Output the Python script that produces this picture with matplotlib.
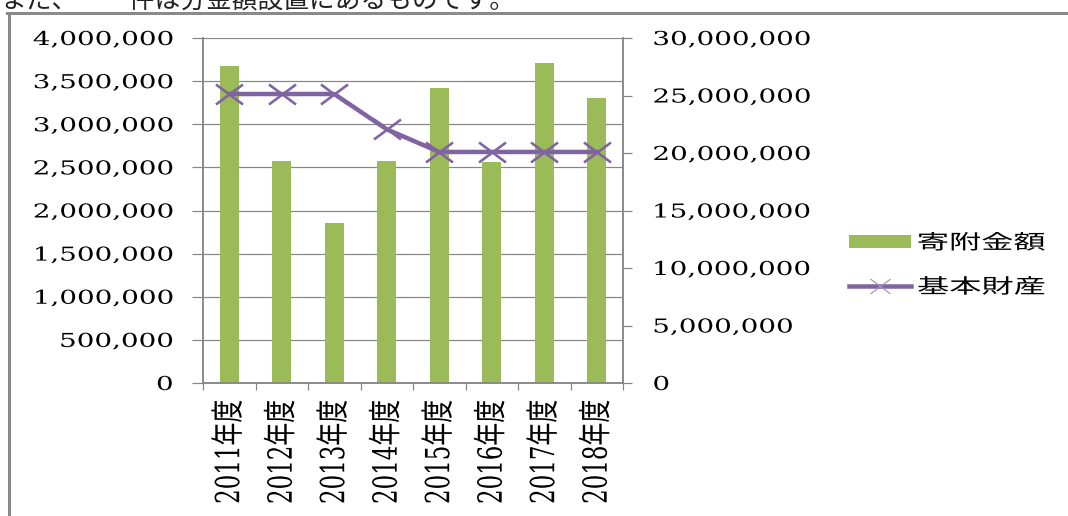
import matplotlib
matplotlib.use('Agg')
import matplotlib.pyplot as plt
from matplotlib.patheffects import AbstractPathEffect
from matplotlib.transforms import Affine2D
from matplotlib.path import Path
from matplotlib.lines import Line2D
from matplotlib.patches import Patch
from matplotlib.ticker import FuncFormatter, MultipleLocator, FixedLocator

# ---- data ----
years = ['2011年度', '2012年度', '2013年度', '2014年度',
         '2015年度', '2016年度', '2017年度', '2018年度']
donations = [3680000, 2575000, 1850000, 2575000, 3425000, 2560000, 3715000, 3300000]
endowment = [25130000, 25130000, 25130000, 22060000, 20090000, 20090000, 20090000, 20090000]
series_names = ['寄附金額', '基本財産']
header_text = 'また、一一件は分金額設置にあるものです。'

GREEN = '#9BBB59'
PURPLE = '#8064A2'
GRAY = '#868686'

plt.rcParams['font.family'] = ['DejaVu Serif', 'Noto Sans CJK JP']


class HStretch(AbstractPathEffect):
    """Stretch rendered text horizontally around an anchor edge."""
    def __init__(self, sx, anchor='left'):
        super().__init__()
        self.sx = sx
        self.anchor = anchor

    def draw_path(self, renderer, gc, tpath, affine, rgbFace=None):
        ext = tpath.transformed(affine).get_extents()
        if self.anchor == 'left':
            ax_ = ext.x0
        elif self.anchor == 'right':
            ax_ = ext.x1
        else:
            ax_ = 0.5 * (ext.x0 + ext.x1)
        t = affine + Affine2D().translate(-ax_, 0).scale(self.sx, 1).translate(ax_, 0)
        renderer.draw_path(gc, tpath, t, rgbFace)


W, H = 1068, 516
fig = plt.figure(figsize=(W / 100, H / 100), dpi=100)

def px(v):
    return v * 72 / 100.0

ax = fig.add_axes([203 / W, 1 - 383 / H, 420 / W, 345 / H])
ax2 = ax.twinx()

x = list(range(len(years)))
ax.bar(x, donations, width=0.37, color=GREEN, zorder=2)
ax.set_xlim(-0.5, len(years) - 0.5)
ax.set_ylim(0, 4000000)
ax.yaxis.set_major_locator(MultipleLocator(500000))
ax.yaxis.set_major_formatter(FuncFormatter(lambda v, p: f'{v:,.0f}'))
ax.grid(axis='y', color=GRAY, linewidth=px(1.2))
ax.set_axisbelow(True)

marker_x = Path([(-1.35, -1), (1.35, 1), (-1.35, 1), (1.35, -1)],
                [Path.MOVETO, Path.LINETO, Path.MOVETO, Path.LINETO])
ax2.plot(x, endowment, color=PURPLE, linewidth=px(4.5), marker=marker_x,
         markersize=px(27), markeredgewidth=px(2.6), markeredgecolor=PURPLE,
         solid_joinstyle='round', zorder=3)
ax2.set_ylim(0, 30000000)
ax2.yaxis.set_major_locator(MultipleLocator(5000000))
ax2.yaxis.set_major_formatter(FuncFormatter(lambda v, p: f'{v:,.0f}'))

for a in (ax, ax2):
    for s in a.spines.values():
        s.set_color(GRAY)
        s.set_linewidth(px(1.5))
    a.spines['top'].set_visible(False)

ax.set_xticks(x)
ax.set_xticklabels(years, rotation=90, fontsize=16.5, va='top', ha='center')
ax.xaxis.set_minor_locator(FixedLocator([i - 0.5 for i in range(len(years) + 1)]))
ax.tick_params(axis='x', which='major', length=0, pad=px(17))
ax.tick_params(axis='x', which='minor', length=px(7), width=px(1.2), color=GRAY, direction='out')
ax.tick_params(axis='y', which='major', length=px(11), width=px(1.2), color=GRAY,
               direction='out', pad=px(19), labelsize=13.8)
ax2.tick_params(axis='y', which='major', length=px(9), width=px(1.2), color=GRAY,
                direction='out', pad=px(21), labelsize=13.8)

for lab in ax.get_yticklabels():
    lab.set_path_effects([HStretch(1.45, 'right')])
for lab in ax2.get_yticklabels():
    lab.set_path_effects([HStretch(1.45, 'left')])
for lab in ax.get_xticklabels():
    lab.set_path_effects([HStretch(1.45, 'center')])

# legend
handles = [Patch(facecolor=GREEN, edgecolor='none'),
           Line2D([], [], color=PURPLE, linewidth=px(4.5), marker=marker_x,
                  markersize=px(20), markeredgewidth=px(1.2), markeredgecolor='#a48fc4')]
leg = fig.legend(handles, series_names, loc='center left',
                 bbox_to_anchor=(849 / W, 1 - 265.5 / H), frameon=False,
                 borderpad=0, borderaxespad=0, handlelength=3.1, handleheight=0.6,
                 handletextpad=0.3, labelspacing=1.15,
                 prop={'family': 'Noto Sans CJK JP', 'size': 14.5})
for t in leg.get_texts():
    t.set_path_effects([HStretch(1.6, 'left')])

# document border and clipped header text
fig.add_artist(Line2D([8.5 / W, 8.5 / W], [0, 1 - 12.5 / H], transform=fig.transFigure,
                      color='#8a8a8a', linewidth=px(3)))
fig.add_artist(Line2D([7 / W, 1], [1 - 12.5 / H, 1 - 12.5 / H], transform=fig.transFigure,
                      color='#8a8a8a', linewidth=px(3)))
fig.text(0, 1 - 8.5 / H, header_text, family='Noto Sans CJK JP', fontsize=18.5,
         va='baseline', ha='left', color='#222222')

fig.savefig('out.png', dpi=100)
